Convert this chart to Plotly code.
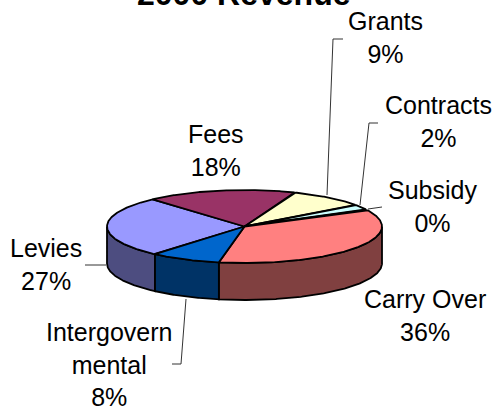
import numpy as np
import plotly.graph_objects as go

labels = ["Levies", "Fees", "Grants", "Contracts", "Subsidy", "Carry Over", "Intergovernmental"]
display = ["Levies", "Fees", "Grants", "Contracts", "Subsidy", "Carry Over", "Intergovern<br>mental"]
values = [27.1, 17.6, 9, 2.3, 0.2, 35.6, 8.3]
shown_pct = ["27%", "18%", "9%", "2%", "0%", "36%", "8%"]
top_colors = ["#9999FF", "#993366", "#FFFFCC", "#CCFFFF", "#660066", "#FF8080", "#0066CC"]
side_colors = ["#4D4D80", "#4D1A33", "#808066", "#668080", "#330033", "#804040", "#003366"]

CX, CY, RX, RY, DEPTH = 244.5, 226.5, 137.5, 36.5, 37
START_DEG = 220.6

label_xy = [(46, 264), (216, 150), (385, 37), (438, 121), (432, 206), (425, 315), (109, 364)]
leaders = [
    [(106, 265), (85, 265)],
    None,
    [(327, 195), (333, 39), (343, 39)],
    [(360, 205), (369, 123), (378, 123)],
    [(368, 209), (382, 207)],
    None,
    [(186, 299), (181, 364), (172, 364)],
]


def pt(deg, dy=0.0):
    a = np.radians(deg)
    return CX + RX * np.sin(a), CY - RY * np.cos(a) + dy


def arc(a0, a1, dy=0.0):
    t = np.linspace(a0, a1, max(2, int(abs(a1 - a0) * 2) + 2))
    return pt(t, dy)


fig = go.Figure()
total = sum(values)
edges = START_DEG + np.cumsum([0] + values) * 360 / total
BLACK = dict(color="black", width=1.8)

# front wall of the disc
for name, c, a0, a1 in zip(labels, side_colors, edges[:-1], edges[1:]):
    for k in (0, 1):
        lo, hi = max(a0, 90 + 360 * k), min(a1, 270 + 360 * k)
        if hi > lo:
            xt, yt = arc(lo, hi)
            xb, yb = arc(hi, lo, DEPTH)
            fig.add_trace(go.Scatter(x=np.r_[xt, xb, xt[0]], y=np.r_[yt, yb, yt[0]], mode="lines",
                                     fill="toself", fillcolor=c, line=BLACK, name=name,
                                     hoverinfo="skip"))

# top face of the disc
for name, c, a0, a1 in zip(labels, top_colors, edges[:-1], edges[1:]):
    xa, ya = arc(a0, a1)
    fig.add_trace(go.Scatter(x=np.r_[CX, xa, CX], y=np.r_[CY, ya, CY], mode="lines",
                             fill="toself", fillcolor=c, line=BLACK, name=name,
                             hoverinfo="skip"))

# leader lines
for seg in leaders:
    if seg:
        fig.add_trace(go.Scatter(x=[p[0] for p in seg], y=[p[1] for p in seg], mode="lines",
                                 line=dict(color="#333333", width=1), hoverinfo="skip"))

FONT = "Liberation Sans, Arial, sans-serif"
for d, p, (x, y) in zip(display, shown_pct, label_xy):
    fig.add_annotation(x=x, y=y, text=f"{d}<br>{p}", showarrow=False, xanchor="center",
                       yanchor="middle", align="center",
                       font=dict(family=FONT, size=25, color="black"))

fig.add_annotation(xref="paper", yref="paper", x=243 / 493, y=1 + 6 / 410,
                   text="<b>2000 Revenue</b>", showarrow=False, xanchor="center",
                   yanchor="middle", font=dict(family=FONT, size=32, color="black"))

fig.update_layout(
    width=493, height=410, margin=dict(l=0, r=0, t=0, b=0), showlegend=False,
    paper_bgcolor="white", plot_bgcolor="white",
    xaxis=dict(range=[0, 493], visible=False, fixedrange=True),
    yaxis=dict(range=[410, 0], visible=False, fixedrange=True),
)
fig.write_html("out.html", config={"displayModeBar": False},
               post_script="document.body.style.margin='0';document.body.style.overflow='hidden';")
